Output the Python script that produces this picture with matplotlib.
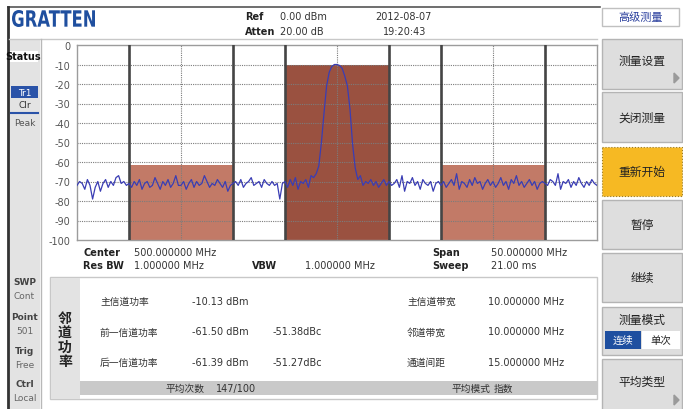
import numpy as np
import matplotlib.pyplot as plt
from matplotlib.patches import Rectangle, PathPatch, Polygon
from matplotlib.textpath import TextPath
from matplotlib.font_manager import FontProperties
from matplotlib.transforms import Affine2D

plt.rcParams['font.family'] = ['DejaVu Sans', 'Noto Sans CJK SC']

# sweep settings
center_mhz = 500.0
span_mhz = 50.0
ref_dbm = 0.0
y_bottom = -100.0
chan_bw_mhz = 10.0
chan_spacing_mhz = 15.0

# channel powers: lower adjacent, main, upper adjacent
chan_offsets = [-1, 0, 1]
chan_power_dbm = [-61.50, -10.13, -61.39]
chan_dbc = [-51.38, None, -51.27]
chan_colors = ['#c27a67', '#9a5140', '#c27a67']

# trace, 0.25 MHz per point from 475 to 525 MHz
trace_db = [
    -72, -70, -71, -74, -69, -72, -79, -73, -70, -75, -71, -69, -73, -70, -72, -68, -67, -71, -70, -72,
    -71, -73, -70, -72, -69, -74, -71, -70, -73, -72, -68, -71, -74, -70, -72, -69, -73, -71, -67, -72,
    -72, -70, -74, -71, -69, -73, -70, -72, -71, -67, -70, -73, -71, -72, -69, -71, -73, -70, -75, -72,
    -71, -70, -72, -69, -73, -71, -70, -68, -72, -71, -70, -73, -69, -71, -72, -70, -72, -71, -79, -71,
    -70, -73, -69, -72, -68, -74, -70, -71, -69, -73, -67, -68, -66, -62, -50, -35, -21, -14, -11, -10,
    -10, -10.5, -12, -16, -21, -33, -51, -63, -69, -67, -72, -70, -71, -69, -72, -70, -73, -71, -69, -72,
    -70, -72, -71, -69, -73, -67, -75, -70, -71, -68, -72, -70, -74, -69, -71, -72, -70, -75, -71, -70,
    -72, -70, -73, -71, -69, -72, -66, -74, -70, -71, -73, -69, -72, -68, -71, -70, -74, -71, -69, -72,
    -70, -73, -71, -68, -72, -70, -74, -69, -71, -67, -72, -70, -73, -71, -69, -72, -70, -74, -71, -70,
    -71, -72, -69, -70, -72, -66, -74, -70, -71, -69, -73, -70, -72, -68, -71, -73, -70, -72, -69, -71, -72,
]

y_ticks = list(range(0, -101, -10))

freq = np.linspace(center_mhz - span_mhz / 2, center_mhz + span_mhz / 2, len(trace_db))

W, H = 683, 410
fig = plt.figure(figsize=(W / 100, H / 100), dpi=100)
fig.patch.set_facecolor('white')

# full-screen layer in pixel coordinates for the instrument frame
ov = fig.add_axes([0, 0, 1, 1], zorder=0)
ov.set_xlim(0, W)
ov.set_ylim(H, 0)
ov.axis('off')

def rect(x0, y0, x1, y1, fc, ec='none', lw=1.0, ls='-', z=1):
    ov.add_patch(Rectangle((x0, y0), x1 - x0, y1 - y0, facecolor=fc,
                           edgecolor=ec, lw=lw, linestyle=ls, zorder=z))

def txt(x, y, s, size=7, ha='left', color='#333333', weight='normal', **kw):
    ov.text(x, y, s, fontsize=size, ha=ha, va='center', color=color,
            fontweight=weight, zorder=5, **kw)

# outer frame
ov.plot([8, 600], [8, 8], color='#555555', lw=1.2, zorder=3)
ov.plot([8, 8], [8, H], color='#333333', lw=2.0, zorder=3)
ov.plot([9, 597], [40, 40], color='#c8c8c8', lw=1.0, zorder=3)

# left status column
rect(9, 40, 40, H, '#e3e3e3')
ov.plot([40.5, 40.5], [40, H], color='#b8b8b8', lw=1.0, zorder=3)
rect(9, 52, 38, 63, 'white')
txt(23, 57.5, 'Status', size=7, ha='center', weight='bold', color='#111111')
rect(11, 87, 38, 99, '#2a53a8')
txt(24.5, 93, 'Tr1', size=6.5, ha='center', color='white')
txt(24.5, 105, 'Clr', size=6.5, ha='center')
ov.plot([11, 38], [114, 114], color='#2a53a8', lw=1.5, zorder=3)
txt(24.5, 123, 'Peak', size=6.5, ha='center', color='#555555')
for y, head, val in [(283, 'SWP', 'Cont'), (318, 'Point', '501'),
                     (352, 'Trig', 'Free'), (385, 'Ctrl', 'Local')]:
    txt(24.5, y, head, size=6.5, ha='center', weight='bold', color='#444444')
    txt(24.5, y + 14, val, size=6.5, ha='center', color='#666666')

# logo
tp = TextPath((0, 0), 'GRATTEN', size=10, prop=FontProperties(family='DejaVu Sans', weight='bold'))
bb = tp.get_extents()
tr = Affine2D().translate(-bb.x0, -bb.y0).scale(83 / bb.width, -17 / bb.height).translate(12, 28)
ov.add_patch(PathPatch(tr.transform_path(tp), facecolor='#1f4f9f', lw=0, zorder=4))

# header readouts
txt(245, 17, 'Ref', weight='bold', color='#222222')
txt(280, 17, f'{ref_dbm:.2f} dBm')
txt(245, 32, 'Atten', weight='bold', color='#222222')
txt(280, 32, '20.00 dB')
txt(403, 17, '2012-08-07', ha='center')
txt(405, 32, '19:20:43', ha='center')

# settings under the graticule
txt(83, 253, 'Center', weight='bold', color='#222222')
txt(134, 253, f'{center_mhz:.6f} MHz')
txt(83, 266, 'Res BW', weight='bold', color='#222222')
txt(134, 266, '1.000000 MHz')
txt(252, 266, 'VBW', weight='bold', color='#222222')
txt(305, 266, '1.000000 MHz')
txt(432, 253, 'Span', weight='bold', color='#222222')
txt(491, 253, f'{span_mhz:.6f} MHz')
txt(432, 266, 'Sweep', weight='bold', color='#222222')
txt(491, 266, '21.00 ms')

# adjacent channel power result panel
rect(50, 278, 597, 400, 'white', ec='#c8c8c8', lw=1.0)
rect(50.5, 278.5, 80, 399.5, '#e3e3e3')
rect(80, 382, 596.5, 396, '#c9c9c9')
for i, ch in enumerate('邻道功率'):
    txt(65, 319 + i * 14.5, ch, size=10, ha='center', weight='bold', color='#222222')
lower, main, upper = chan_power_dbm
rows = [
    ('主信道功率', f'{main:.2f} dBm', ''),
    ('前一信道功率', f'{lower:.2f} dBm', f'{chan_dbc[0]:.2f}dBc'),
    ('后一信道功率', f'{upper:.2f} dBm', f'{chan_dbc[2]:.2f}dBc'),
]
right_rows = [
    ('主信道带宽', f'{chan_bw_mhz:.6f} MHz'),
    ('邻道带宽', f'{chan_bw_mhz:.6f} MHz'),
    ('通道间距', f'{chan_spacing_mhz:.6f} MHz'),
]
for i, ((a, b, c), (d, e)) in enumerate(zip(rows, right_rows)):
    y = 302 + i * 30.5
    txt(100, y, a)
    txt(192, y, b)
    txt(273, y, c)
    txt(407, y, d)
    txt(488, y, e)
txt(166, 389, '平均次数')
txt(216, 389, '147/100')
txt(451, 389, '平均模式')
txt(494, 389, '指数')

# soft keys
bx0, bx1 = 602, 682
rect(bx0, 9, bx1 - 3, 27, 'white', ec='#c0c0c0')
txt((bx0 + bx1 - 3) / 2, 18, '高级测量', size=8, ha='center', color='#2a3f9d')
keys = [(40, 90, '测量设置', True), (93, 143, '关闭测量', False),
        (148, 197, '重新开始', False), (201, 250, '暂停', False),
        (254, 303, '继续', False), (360, 412, '平均类型', True)]
for y0, y1, label, arrow in keys:
    if label == '重新开始':
        rect(bx0, y0, bx1, y1, '#f6b923', ec='#9a7a20', lw=0.8, ls=':')
        ty = (y0 + y1) / 2
    else:
        rect(bx0, y0, bx1, y1, '#dedede', ec='#b4b4b4', lw=1.0)
        ty = (y0 + y1) / 2 - (4 if arrow else 0)
    txt((bx0 + bx1) / 2, ty, label, size=8.5, ha='center', color='#222222')
    if arrow:
        ov.add_patch(Polygon([[674, y1 - 16], [674, y1 - 6], [679, y1 - 11]],
                             closed=True, color='#9a9a9a', zorder=4))
rect(bx0, 308, bx1, 356, '#dedede', ec='#b4b4b4', lw=1.0)
txt((bx0 + bx1) / 2, 320, '测量模式', size=8.5, ha='center', color='#222222')
rect(605, 332, 641, 350, '#1e4fa0')
rect(642, 332, 680, 350, 'white')
txt(623, 341, '连续', size=7.5, ha='center', color='white')
txt(661, 341, '单次', size=7.5, ha='center', color='#222222')

# spectrum graticule
ax = fig.add_axes([77 / W, 1 - 241 / H, 520 / W, 195 / H], zorder=2)
ax.set_facecolor('white')
ax.set_xlim(freq[0], freq[-1])
ax.set_ylim(y_bottom, ref_dbm)

chan_centers = [center_mhz + k * chan_spacing_mhz for k in chan_offsets]
ax.bar(chan_centers, [p - y_bottom for p in chan_power_dbm], bottom=y_bottom,
       width=chan_bw_mhz, color=chan_colors, zorder=1)

grid_style = dict(color='#7c7c7c', lw=0.8, linestyle=(0, (1, 1)), zorder=2)
for yv in y_ticks[1:-1]:
    ax.axhline(yv, **grid_style)
for xv in np.arange(freq[0] + span_mhz / 10, freq[-1], span_mhz / 10):
    ax.axvline(xv, **grid_style)
for c in chan_centers:
    for edge in (c - chan_bw_mhz / 2, c + chan_bw_mhz / 2):
        ax.axvline(edge, color='#454545', lw=1.9, zorder=3)

ax.plot(freq, trace_db, color='#3a3db4', lw=0.9, zorder=4)

ax.set_yticks(y_ticks)
ax.set_yticklabels([str(v) for v in y_ticks])
ax.set_xticks([])
ax.tick_params(axis='y', length=0, pad=5, labelsize=7, labelcolor='#555555')
for s in ax.spines.values():
    s.set_color('#9c9c9c')
    s.set_linewidth(1.0)

fig.savefig('out.png', dpi=100)
